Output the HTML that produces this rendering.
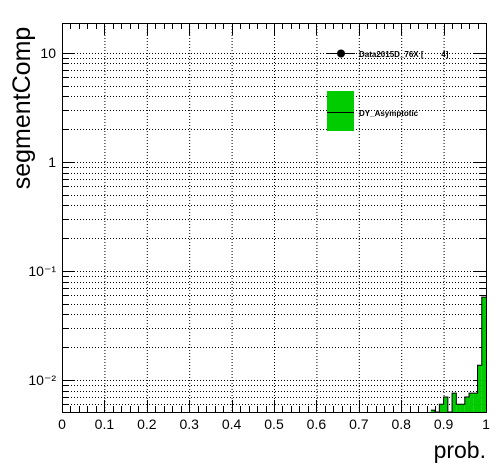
<!DOCTYPE html>
<html><head><meta charset="utf-8"><style>
body{margin:0;background:#fff}
svg{display:block;font-family:"Liberation Sans",sans-serif}
</style></head><body>
<svg id="c" width="496" height="472"></svg>
<script>
const binEdgesStart=[0.87,0.88,0.89,0.90,0.91,0.92,0.93,0.94,0.95,0.96,0.97,0.98,0.99];
const binValues=[0.0053,0,0.0060,0.0070,0,0.0076,0.0060,0.0060,0.0070,0.0076,0.0076,0.0137,0.0577];
const binWidth=0.01;
const xTicks=[0,0.1,0.2,0.3,0.4,0.5,0.6,0.7,0.8,0.9,1];
const xTickLabels=["0","0.1","0.2","0.3","0.4","0.5","0.6","0.7","0.8","0.9","1"];
const yDecades=[0.01,0.1,1,10];
const yDecadeLabels=["10\u207B\u00B2","10\u207B\u00B9","1","10"];

const L=62,R=486,T=23,B=412,yMin=0.00510,yMax=18.8;
const sx=v=>L+(v-0)/(1-0)*(R-L);
const sy=v=>B-(Math.log10(v)-Math.log10(yMin))/(Math.log10(yMax)-Math.log10(yMin))*(B-T);
const svg=document.getElementById('c');
const NS='http://www.w3.org/2000/svg';
function mk(t,a,p){const e=document.createElementNS(NS,t);for(const k in a)e.setAttribute(k,a[k]);(p||svg).appendChild(e);return e;}

const grid=mk('g',{stroke:'#000','stroke-width':1,'stroke-dasharray':'1,2'});


xTicks.forEach(v=>{if(v>0&&v<1)mk('line',{x1:sx(v)+.5,x2:sx(v)+.5,y1:T,y2:B},grid);});
const ticks=mk('g',{stroke:'#000','stroke-width':1});


for(let d=-3;d<=1;d++){for(let m=1;m<=9;m++){const v=m*Math.pow(10,d);if(v<yMin||v>yMax)continue;const y=Math.round(sy(v))+.5;
  mk('line',{x1:L,x2:R,y1:y,y2:y},grid);
  const len=m===1?12:6;
  mk('line',{x1:L,x2:L+len,y1:y,y2:y},ticks);
  mk('line',{x1:R-len,x2:R,y1:y,y2:y},ticks);}}
for(let i=0;i<=50;i++){const v=i/50;const x=Math.round(sx(v))+.5;const len=i%5===0?12:6;
  mk('line',{x1:x,x2:x,y1:B,y2:B-len},ticks);mk('line',{x1:x,x2:x,y1:T,y2:T+len},ticks);}

const h=mk('g',{});


binEdgesStart.forEach((s,i)=>{const v=binValues[i];if(v<=0)return;
  const r=mk('rect',{x:sx(s),y:sy(v),width:sx(s+binWidth)-sx(s),height:B-sy(v),fill:'#00cc00'},h);
  
  });
let pts=[];binEdgesStart.forEach((s,i)=>{const v=binValues[i];const y=v>0?sy(v):B;pts.push(sx(s)+','+y,sx(s+binWidth)+','+y);});
mk('polyline',{points:pts.join(' '),fill:'none',stroke:'#000','stroke-width':1},h);

const fr=mk('rect',{x:L+.5,y:T+.5,width:R-L,height:B-T,fill:'none',stroke:'#000'});



xTicks.forEach((v,i)=>{const t=mk('text',{x:sx(v),y:429,'font-size':14,'text-anchor':'middle'});t.textContent=xTickLabels[i];
  
  });
yDecades.forEach((v,i)=>{const t=mk('text',{x:56,y:sy(v)+5,'font-size':14,'text-anchor':'end'});t.textContent=yDecadeLabels[i];
  
  });
const yt=mk('text',{x:30,y:108,'font-size':25,'text-anchor':'middle',transform:'rotate(-90 30 108)'});yt.textContent='segmentComp';


const xt=mk('text',{x:486,y:458,'font-size':23,'text-anchor':'end'});xt.textContent='prob.';



const lg=mk('g',{});


mk('line',{x1:327,x2:355,y1:53.5,y2:53.5,stroke:'#000'},lg);
mk('circle',{cx:341,cy:53.5,r:4,fill:'#000'},lg);
const t1=mk('text',{x:359,y:57,'font-size':8,'font-weight':'bold',style:'white-space:pre'},lg);t1.textContent='Data2015D_76X [        4]';


mk('rect',{x:327,y:91,width:27,height:40,fill:'#00cc00'},lg);
mk('line',{x1:327,x2:354,y1:112.5,y2:112.5,stroke:'#000'},lg);
const t2=mk('text',{x:359,y:116,'font-size':8,'font-weight':'bold'},lg);t2.textContent='DY_Asymptotic';


</script>
</body></html>
